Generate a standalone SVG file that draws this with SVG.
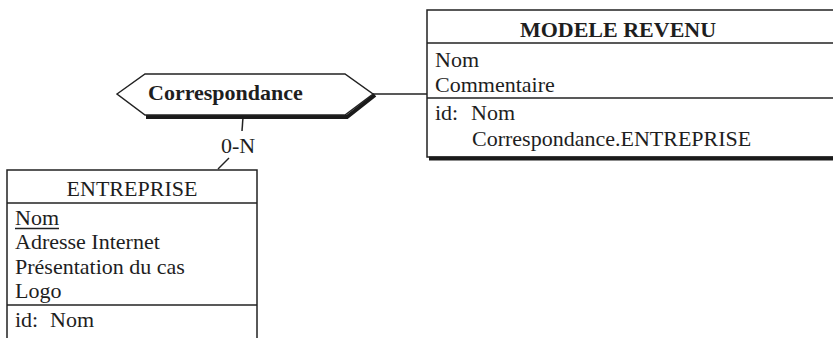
<svg xmlns="http://www.w3.org/2000/svg" width="833" height="338" viewBox="0 0 833 338">
  <style>
    .box { fill: #fff; stroke: #222; stroke-width: 1.5; }
    .sep { stroke: #222; stroke-width: 1.5; fill: none; }
    .shadow { stroke: #1a1a1a; stroke-width: 4; fill: none; stroke-linejoin: miter; }
    .link { stroke: #222; stroke-width: 1.5; fill: none; }
    text { font-family: "Liberation Serif", "Times New Roman", serif; font-size: 22px; fill: #1e1e1e; }
    .title { font-weight: bold; }
  </style>
  <rect width="833" height="338" fill="#fff"/>

  <!-- connectors -->
  <g id="connectors">
    <line class="link" x1="373" y1="94" x2="427" y2="94"/>
    <line class="link" x1="243" y1="117" x2="242" y2="131"/>
    <line class="link" x1="229" y1="158" x2="218" y2="169"/>
    <text x="238" y="153" text-anchor="middle">0-N</text>
  </g>

  <!-- relationship -->
  <g id="correspondance">
    <polyline class="shadow" points="146,117 347,117 375,95"/>
    <polygon class="box" points="117,94 145,74 345,74 373,94 345,115 145,115"/>
    <text class="title" x="148" y="100">Correspondance</text>
  </g>

  <!-- entity MODELE REVENU -->
  <g id="modele-revenu">
    <rect class="box" x="427" y="10" width="420" height="147"/>
    <line class="shadow" x1="429" y1="158.5" x2="840" y2="158.5"/>
    <line class="sep" x1="427" y1="43" x2="840" y2="43"/>
    <line class="sep" x1="427" y1="98" x2="840" y2="98"/>
    <text class="title" x="618" y="37" text-anchor="middle">MODELE REVENU</text>
    <text x="435" y="67">Nom</text>
    <text x="435" y="92">Commentaire</text>
    <text x="435" y="120">id:</text>
    <text x="471" y="120">Nom</text>
    <text x="472" y="146">Correspondance.ENTREPRISE</text>
  </g>

  <!-- entity ENTREPRISE -->
  <g id="entreprise">
    <rect class="box" x="7" y="170" width="250" height="190"/>
    <line class="sep" x1="7" y1="203" x2="257" y2="203"/>
    <line class="sep" x1="7" y1="305" x2="257" y2="305"/>
    <text x="132" y="196" text-anchor="middle">ENTREPRISE</text>
    <text x="15" y="225">Nom</text>
    <line class="sep" x1="15" y1="228.5" x2="59" y2="228.5" stroke-width="1.2"/>
    <text x="15" y="249">Adresse Internet</text>
    <text x="15" y="274">Présentation du cas</text>
    <text x="15" y="298">Logo</text>
    <text x="15" y="327">id:</text>
    <text x="50" y="327">Nom</text>
  </g>
</svg>
